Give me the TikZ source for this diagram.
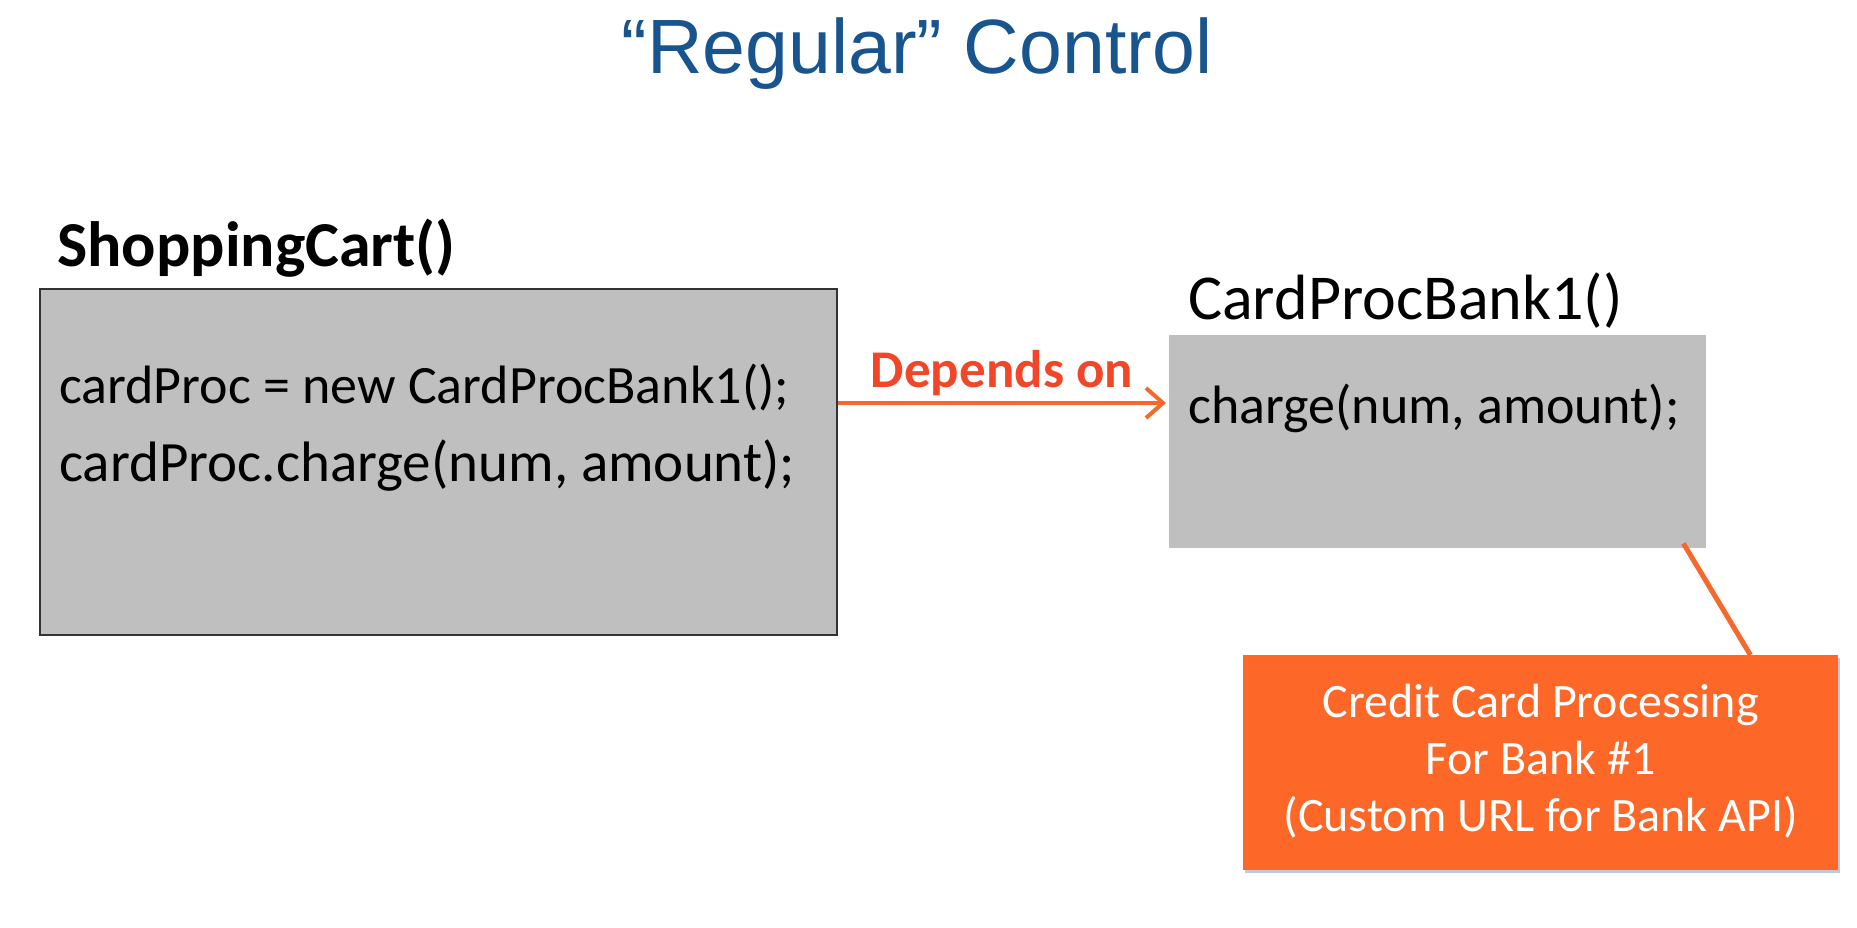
\documentclass[tikz,border=0pt]{standalone}
\usepackage{fontspec}
\setmainfont{Carlito}
\newfontfamily\titlefont{Liberation Sans}
\usetikzlibrary{arrows.meta,shadows}
\definecolor{titleblue}{RGB}{24,84,142}
\definecolor{boxgray}{RGB}{191,191,191}
\definecolor{deporange}{RGB}{242,70,40}
\definecolor{linkorange}{RGB}{246,104,44}
\definecolor{procorange}{RGB}{253,103,40}
\definecolor{shadowblue}{RGB}{170,190,205}
\tikzset{
  codetext/.style={anchor=base west, inner sep=0pt, font=\fontsize{54}{64}\selectfont},
  graybox/.style={anchor=north west, inner sep=0pt, fill=boxgray},
  arr/.style={draw=linkorange, line width=4pt, -{Straight Barb[length=17pt,width=30pt,line width=4pt]}},
  link/.style={draw=linkorange, line width=5pt},
}
\begin{document}
\begin{tikzpicture}[x=1pt,y=-1pt]
\useasboundingbox[fill=white] (0,0) rectangle (1857,927);
\node[anchor=base, inner sep=0pt, text=titleblue, font=\titlefont\fontsize{77}{90}\selectfont] (title) at (917,73) {“Regular” Control};

\node[anchor=base west, inner sep=0pt, font=\bfseries\fontsize{64}{76}\selectfont] (sclabel) at (57,266) {ShoppingCart()};
\node[graybox, draw=black!80, line width=2pt, minimum width=797pt, minimum height=346pt] (sc) at (39,288) {};
\node[codetext] (l1) at (59,403) {cardProc = new CardProcBank1();};
\node[codetext, font=\fontsize{57}{66}\selectfont] (l2) at (59,481) {cardProc.charge(num, amount);};

\node[anchor=base west, inner sep=0pt, font=\fontsize{64}{76}\selectfont] (banklabel) at (1188,319) {CardProcBank1()};
\node[graybox, minimum width=537pt, minimum height=213pt] (bank) at (1169,335) {};
\node[codetext] (l3) at (1188,423) {charge(num, amount);};

\draw[arr] (sc.east |- l1.base) -- ([xshift=-3pt]bank.west |- l1.base);
\node[anchor=base, inner sep=0pt, text=deporange, font=\bfseries\fontsize{53}{63}\selectfont] (dep) at (1002,387) {Depends on};

\node[anchor=north west, inner sep=0pt, fill=procorange, minimum width=595pt, minimum height=215pt,
      drop shadow={shadow xshift=2pt, shadow yshift=-3pt, fill=shadowblue, opacity=0.8}] (proc) at (1243,655) {};
\node[align=center, text=white, inner sep=0pt, font=\fontsize{48}{57}\selectfont] (proctext) at ([yshift=2pt]proc.center) {Credit Card Processing\\For Bank \#1\\(Custom URL for Bank API)};

\draw[link] ([xshift=-23pt,yshift=5pt]bank.south east) -- ([xshift=-88pt]proc.north east);
\end{tikzpicture}
\end{document}
